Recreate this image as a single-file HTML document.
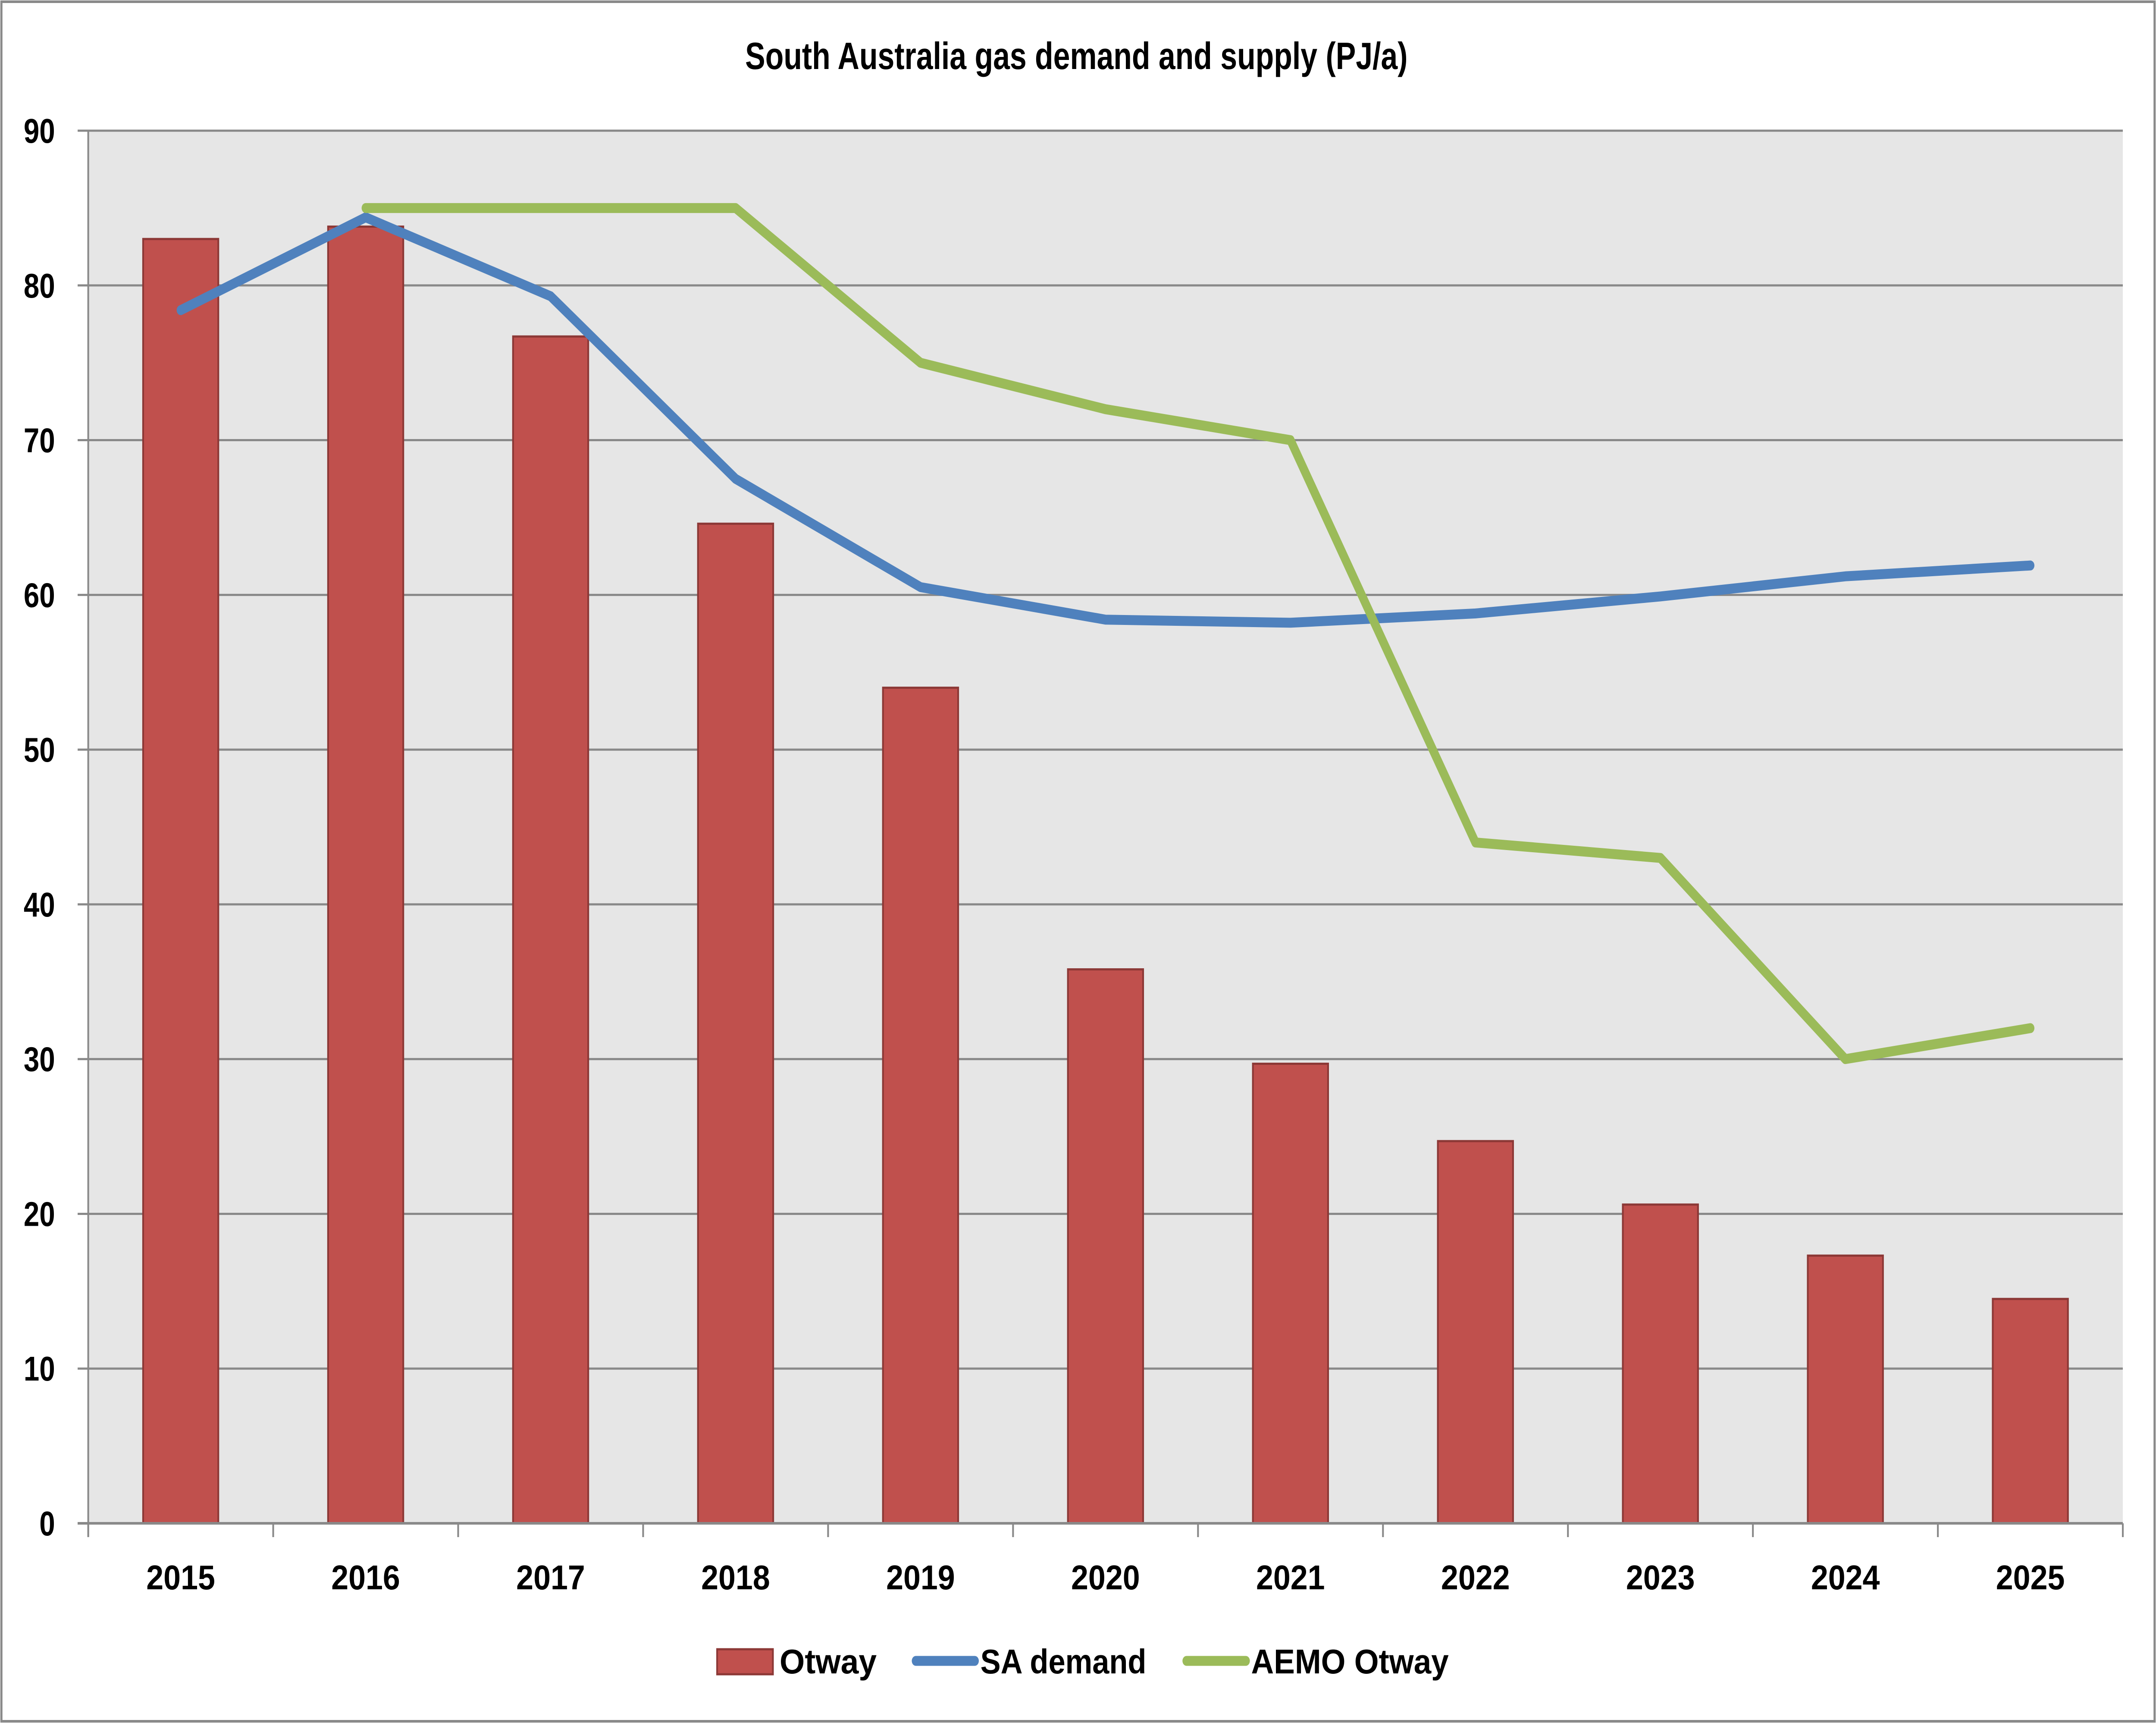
<!DOCTYPE html>
<html><head><meta charset="utf-8"><style>
html,body{margin:0;padding:0;background:#fff;width:100%;height:100%;overflow:hidden}
svg{display:block;width:100vw;height:100vh}
text{font-family:"Liberation Sans",sans-serif;font-weight:bold;fill:#000}
</style></head><body>
<svg id="chart" viewBox="0 0 6109 3995" preserveAspectRatio="none" xmlns="http://www.w3.org/2000/svg">
<rect x="4" y="4" width="6101" height="3987" fill="#fff" stroke="#898989" stroke-width="6"/>
<text x="3050" y="160" text-anchor="middle" font-size="88" textLength="1877" lengthAdjust="spacingAndGlyphs">South Australia gas demand and supply (PJ/a)</text>
<rect x="250" y="303" width="5765" height="3229" fill="#e6e6e6"/>
<g id="grid"></g><g id="bars"></g><g id="lines"></g><g id="axes"></g>
<g>
<rect x="2032" y="3824" width="158" height="58" fill="#c0504d" stroke="#8c3836" stroke-width="5"/>
<text x="2209" y="3880" font-size="80" textLength="275" lengthAdjust="spacingAndGlyphs">Otway</text>
<line x1="2595" y1="3851" x2="2762" y2="3851" stroke="#4f81bd" stroke-width="23" stroke-linecap="round"/>
<text x="2778" y="3880" font-size="80" textLength="470" lengthAdjust="spacingAndGlyphs">SA demand</text>
<line x1="3362" y1="3851" x2="3530" y2="3851" stroke="#9bbb59" stroke-width="23" stroke-linecap="round"/>
<text x="3545" y="3880" font-size="80" textLength="560" lengthAdjust="spacingAndGlyphs">AEMO Otway</text>
</g>
</svg>
<script>
const categories = ["2015","2016","2017","2018","2019","2020","2021","2022","2023","2024","2025"];
const otway = [83, 83.8, 76.7, 64.6, 54, 35.8, 29.7, 24.7, 20.6, 17.3, 14.5];
const saDemand = [78.4, 84.4, 79.3, 67.5, 60.5, 58.4, 58.2, 58.8, 59.9, 61.2, 61.9];
const aemoOtway = [null, 85, 85, 85, 75, 72, 70, 44, 43, 30, 32];
const yTicks = [0,10,20,30,40,50,60,70,80,90];

const NS="http://www.w3.org/2000/svg";
const L=250,R=6015,T=303,B=3532,YMAX=90;
const cw=(R-L)/categories.length;
function xc(i){return L+cw*(i+0.5);}
function y(v){return B-(v/YMAX)*(B-T);}
function mk(tag,attrs,parent){const e=document.createElementNS(NS,tag);for(const k in attrs)e.setAttribute(k,attrs[k]);parent.appendChild(e);return e;}
const grid=document.getElementById('grid'),bars=document.getElementById('bars'),lines=document.getElementById('lines'),axes=document.getElementById('axes');

yTicks.forEach(t=>{
  const g=mk('line',{x1:220,x2:R,y1:y(t),y2:y(t),stroke:'#898989','stroke-width':5},grid);
  
  
  const lb=mk('text',{x:156,y:y(t)+28,'text-anchor':'end','font-size':80},axes);
  lb.textContent=String(t);
  
  
});
const bw=213;
otway.forEach((v,i)=>{
  const r=mk('rect',{x:xc(i)-bw/2,y:y(v),width:bw,height:B-y(v),fill:'#c0504d',stroke:'#8c3836','stroke-width':5},bars);
  
  
});
function path(arr){let d='';arr.forEach((v,i)=>{if(v==null)return;d+=(d?'L':'M')+xc(i)+','+y(v);});return d;}
const p1=mk('path',{d:path(saDemand),fill:'none',stroke:'#4f81bd','stroke-width':23,'stroke-linejoin':'round','stroke-linecap':'round'},lines);


const p2=mk('path',{d:path(aemoOtway),fill:'none',stroke:'#9bbb59','stroke-width':23,'stroke-linejoin':'round','stroke-linecap':'round'},lines);



const ya=mk('line',{x1:L,x2:L,y1:T,y2:B+30,stroke:'#898989','stroke-width':5},axes);


const xa=mk('line',{x1:220,x2:R,y1:B,y2:B,stroke:'#898989','stroke-width':6},axes);


for(let i=0;i<=categories.length;i++){
  const tk=mk('line',{x1:L+cw*i,x2:L+cw*i,y1:B,y2:B+32,stroke:'#898989','stroke-width':5},axes);
  
  
}
categories.forEach((c,i)=>{
  const lb=mk('text',{x:xc(i),y:3685,'text-anchor':'middle','font-size':80,textLength:195,lengthAdjust:'spacingAndGlyphs'},axes);
  lb.textContent=c;
  
  
});
</script>
</body></html>
